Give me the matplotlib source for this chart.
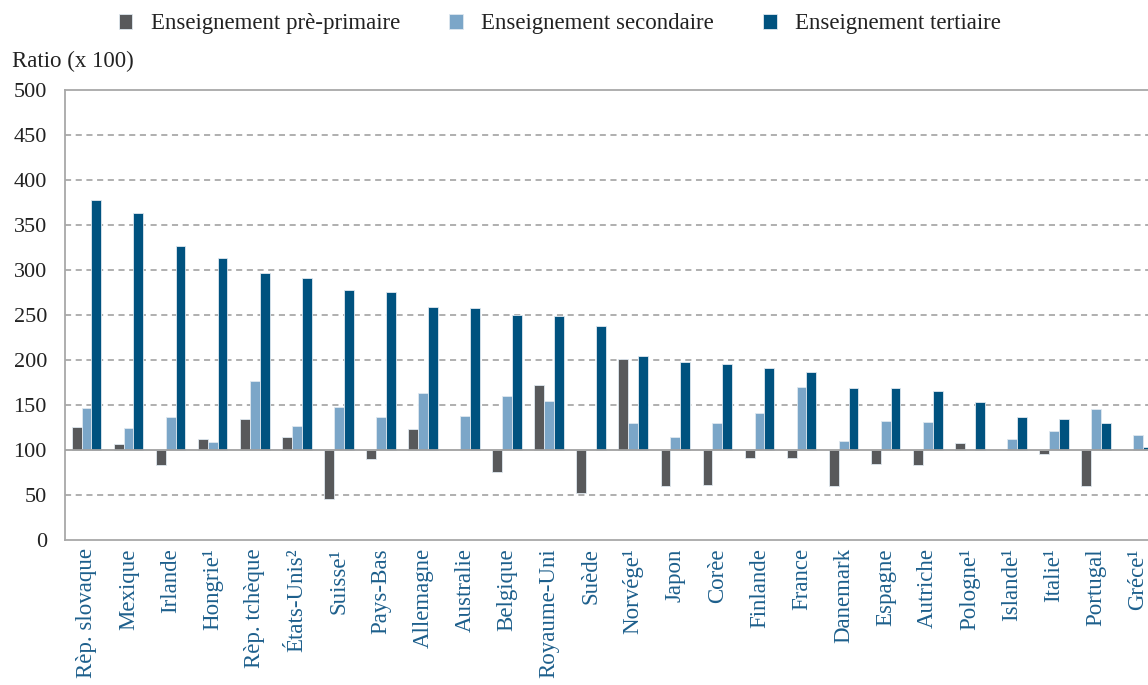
import numpy as np
import matplotlib.pyplot as plt

# Ratio (x 100) par pays et niveau d'enseignement, base 100
pays = ["Rèp. slovaque", "Mexique", "Irlande", "Hongrie¹", "Rèp. tchèque",
        "États-Unis²", "Suisse¹", "Pays-Bas", "Allemagne", "Australie",
        "Belgique", "Royaume-Uni", "Suède", "Norvége¹", "Japon", "Corèe",
        "Finlande", "France", "Danemark", "Espagne", "Autriche", "Pologne¹",
        "Islande¹", "Italie¹", "Portugal", "Gréce¹"]

pre_primaire = [126, 107, 83, 112, 134, 114, 46, 90, 123, np.nan,
                76, 172, 52, 201, 60, 61, 91, 91, 60, 85,
                83, 108, np.nan, 96, 60, np.nan]
secondaire = [147, 125, 137, 109, 177, 127, 148, 137, 163, 138,
              160, 155, np.nan, 130, 114, 130, 141, 170, 110, 132,
              131, np.nan, 112, 121, 146, 117]
tertiaire = [378, 363, 327, 313, 297, 291, 278, 276, 259, 258,
             250, 249, 238, 204, 198, 196, 191, 187, 169, 169,
             166, 153, 137, 135, 130, 103]

series = [
    ("Enseignement prè-primaire", pre_primaire, "#58595b"),
    ("Enseignement secondaire", secondaire, "#7ba6c8"),
    ("Enseignement tertiaire", tertiaire, "#00527f"),
]

plt.rcParams["font.family"] = ["Liberation Serif", "DejaVu Serif"]

fig = plt.figure(figsize=(11.48, 6.85), dpi=100)
ax = fig.add_axes([65 / 1148, 145 / 685, 1083 / 1148, 450 / 685])

x = np.arange(len(pays))
w = 0.235
base = 100
for i, (nom, vals, couleur) in enumerate(series):
    v = np.array(vals, dtype=float)
    ax.bar(x + (i - 1) * w, v - base, bottom=base, width=w, color=couleur,
           edgecolor="#dfe8f0", linewidth=0.6, label=nom, zorder=3)

ax.set_ylim(0, 500)
ax.set_xlim(-0.511, 25.238)
ax.set_yticks(np.arange(0, 501, 50))
for yv in np.arange(50, 500, 50):
    if yv != 100:
        ax.axhline(yv, color="#9a9a9a", linestyle=(0, (4, 3)), linewidth=1.1, zorder=1)
ax.axhline(100, color="#a0a0a0", linewidth=1.3, zorder=4)

for s in ["left", "bottom", "top"]:
    ax.spines[s].set_color("#a8a8a8")
    ax.spines[s].set_linewidth(1.3)
ax.spines["right"].set_visible(False)

ax.tick_params(axis="y", length=0, pad=13, labelsize=16, labelcolor="#222222")
ax.tick_params(axis="x", length=0, pad=6)
ax.set_xticks(x)
ax.set_xticklabels(pays, rotation=90, fontsize=16.5, color="#1d5f8c")

fig.text(12 / 1148, 1 - 61 / 685, "Ratio (x 100)", fontsize=16.5, color="#222222", va="center")

fig.legend(loc="center", bbox_to_anchor=(560 / 1148, 1 - 24 / 685), ncol=3,
           frameon=False, fontsize=16.5, handlelength=0.6, handleheight=0.6,
           handletextpad=0.8, columnspacing=2.15, labelcolor="#222222")

fig.savefig("out.png", dpi=100)
